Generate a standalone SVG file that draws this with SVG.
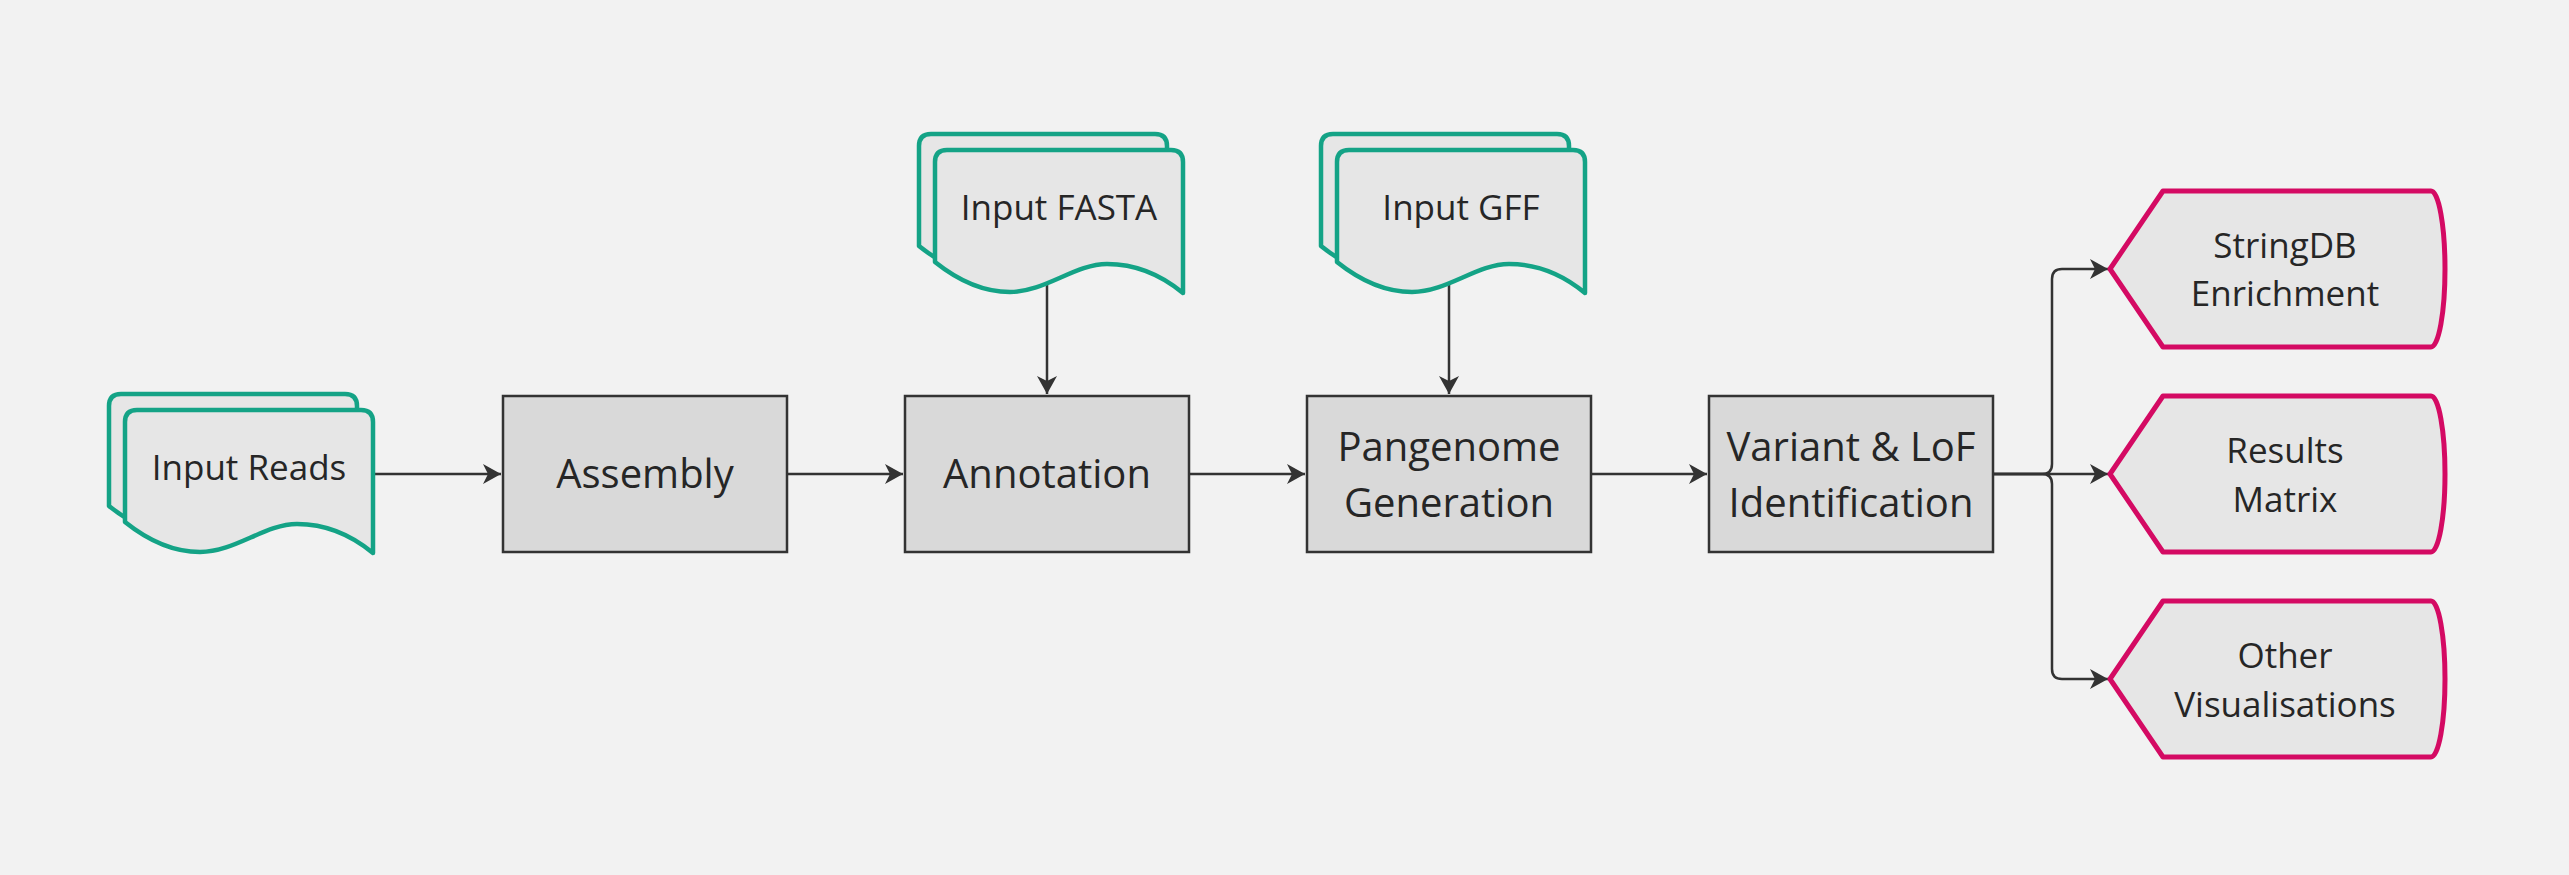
<svg xmlns="http://www.w3.org/2000/svg" width="2569" height="875" viewBox="0 0 2569 875">
<style>
.proc rect{fill:#d9d9d9;stroke:#333;stroke-width:2.5}
.t{font-family:"Open Sans","Noto Sans",sans-serif;fill:#262626;text-anchor:middle}
.pt{font-size:40px}
.dt{font-size:35px}
.doc path{fill:#e6e6e6;stroke:#14a386;stroke-width:4.5;stroke-linejoin:round}
.out path{fill:#e6e6e6;stroke:#d40a63;stroke-width:5;stroke-linejoin:round}
.conn path{fill:none;stroke:#333;stroke-width:2.5}
</style>
<defs>
<marker id="ah" markerUnits="userSpaceOnUse" viewBox="-20 -11 22 22" refX="0" refY="0" markerWidth="22" markerHeight="22" orient="auto">
<path d="M-18,-10 L0,0 L-18,10 L-13,0 Z" fill="#333"/>
</marker>
</defs>
<rect width="2569" height="875" fill="#f2f2f2"/>

<g class="conn" id="connectors">
<path d="M373,474 L501,474" marker-end="url(#ah)"/>
<path d="M787,474 L903,474" marker-end="url(#ah)"/>
<path d="M1189,474 L1305,474" marker-end="url(#ah)"/>
<path d="M1591,474 L1707,474" marker-end="url(#ah)"/>
<path d="M1047,280 L1047,394" marker-end="url(#ah)"/>
<path d="M1449,280 L1449,394" marker-end="url(#ah)"/>
<path d="M1993,474 L2108,474" marker-end="url(#ah)"/>
<path d="M1993,474 L2042,474 Q2052,474 2052,464 L2052,279 Q2052,269 2062,269 L2108,269" marker-end="url(#ah)"/>
<path d="M1993,474 L2042,474 Q2052,474 2052,484 L2052,669 Q2052,679 2062,679 L2108,679" marker-end="url(#ah)"/>
</g>

<g id="input-reads" class="doc">
<g transform="translate(109,394)"><path d="M0,12 Q0,0 12,0 L236,0 Q248,0 248,12 L248,143 C225,124 198,114 172,114 C140,114 110,142 75,142 C45,142 20,128 0,112 Z"/></g>
<g transform="translate(125,410)"><path d="M0,12 Q0,0 12,0 L236,0 Q248,0 248,12 L248,143 C225,124 198,114 172,114 C140,114 110,142 75,142 C45,142 20,128 0,112 Z"/></g>
<text class="t dt" x="249" y="480">Input Reads</text>
</g>

<g id="input-fasta" class="doc">
<g transform="translate(919,134)"><path d="M0,12 Q0,0 12,0 L236,0 Q248,0 248,12 L248,143 C225,124 198,114 172,114 C140,114 110,142 75,142 C45,142 20,128 0,112 Z"/></g>
<g transform="translate(935,150)"><path d="M0,12 Q0,0 12,0 L236,0 Q248,0 248,12 L248,143 C225,124 198,114 172,114 C140,114 110,142 75,142 C45,142 20,128 0,112 Z"/></g>
<text class="t dt" x="1059" y="220">Input FASTA</text>
</g>

<g id="input-gff" class="doc">
<g transform="translate(1321,134)"><path d="M0,12 Q0,0 12,0 L236,0 Q248,0 248,12 L248,143 C225,124 198,114 172,114 C140,114 110,142 75,142 C45,142 20,128 0,112 Z"/></g>
<g transform="translate(1337,150)"><path d="M0,12 Q0,0 12,0 L236,0 Q248,0 248,12 L248,143 C225,124 198,114 172,114 C140,114 110,142 75,142 C45,142 20,128 0,112 Z"/></g>
<text class="t dt" x="1461" y="220">Input GFF</text>
</g>

<g id="assembly" class="proc">
<rect x="503" y="396" width="284" height="156"/>
<text class="t pt" x="645" y="488">Assembly</text>
</g>
<g id="annotation" class="proc">
<rect x="905" y="396" width="284" height="156"/>
<text class="t pt" x="1047" y="488">Annotation</text>
</g>
<g id="pangenome" class="proc">
<rect x="1307" y="396" width="284" height="156"/>
<text class="t pt" x="1449" y="461">Pangenome</text>
<text class="t pt" x="1449" y="517">Generation</text>
</g>
<g id="variant" class="proc">
<rect x="1709" y="396" width="284" height="156"/>
<text class="t pt" x="1851" y="461">Variant &amp; LoF</text>
<text class="t pt" x="1851" y="517">Identification</text>
</g>

<g id="stringdb" class="out">
<path d="M2110,269 L2163,191 L2431,191 A14,78 0 0 1 2431,347 L2163,347 Z"/>
<text class="t dt" x="2285" y="258">StringDB</text>
<text class="t dt" x="2285" y="306">Enrichment</text>
</g>
<g id="results" class="out">
<path d="M2110,474 L2163,396 L2431,396 A14,78 0 0 1 2431,552 L2163,552 Z"/>
<text class="t dt" x="2285" y="463">Results</text>
<text class="t dt" x="2285" y="512">Matrix</text>
</g>
<g id="other" class="out">
<path d="M2110,679 L2163,601 L2431,601 A14,78 0 0 1 2431,757 L2163,757 Z"/>
<text class="t dt" x="2285" y="668">Other</text>
<text class="t dt" x="2285" y="717">Visualisations</text>
</g>
</svg>
